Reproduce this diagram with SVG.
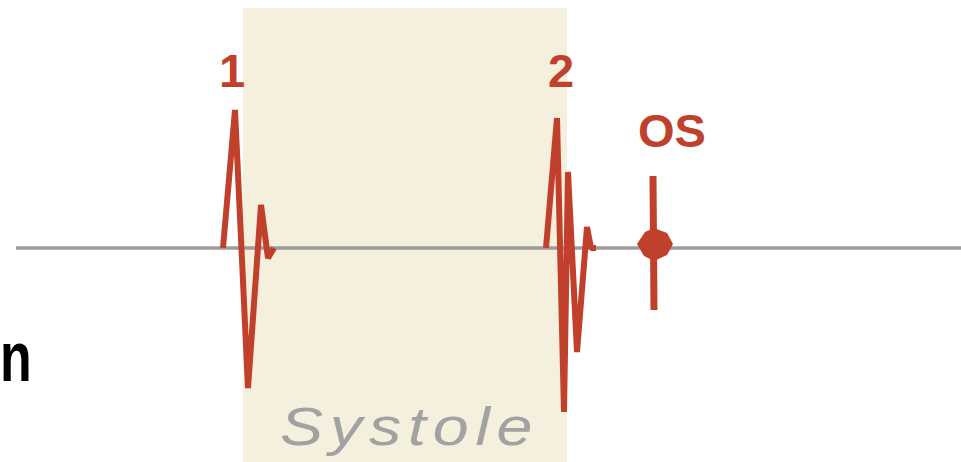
<svg xmlns="http://www.w3.org/2000/svg" width="961" height="462" viewBox="0 0 961 462">
<style>
.wave{fill:none;stroke:#C1402B;stroke-width:6;stroke-linejoin:bevel;stroke-linecap:butt}
.lbl{font-family:"Liberation Sans",Arial,sans-serif;font-weight:bold;font-size:47px;fill:#C1402B;text-anchor:middle}
</style>
<rect width="961" height="462" fill="#ffffff"/>
<g id="systole">
<rect x="243" y="8" width="324" height="454" fill="#F5EFDE"/>
<text transform="translate(280,445) scale(1.22,1)" x="0" y="0" font-family="Liberation Sans,Arial,sans-serif" font-style="italic" font-size="53" fill="#A2A2A2" textLength="207" lengthAdjust="spacing">Systole</text>
</g>
<g id="baseline">
<line x1="16" y1="248" x2="961" y2="248" stroke="#9C9C9C" stroke-width="3.5"/>
</g>
<g id="s1">
<polyline class="wave" points="223,248 235,110 248,388 261,205 268,258 274,248"/>
<text class="lbl" x="232" y="87">1</text>
</g>
<g id="s2">
<polyline class="wave" points="546,248 557,118 564,412 568,172 577,352 587,227 591,248 596,248"/>
<text class="lbl" x="561" y="87">2</text>
</g>
<g id="os">
<line x1="653" y1="176" x2="654" y2="310" stroke="#C1402B" stroke-width="7"/>
<path d="M637,244 L645,232 L654,228 L667,233 L673,244 L667,255 L654,261 L644,256 Z" fill="#C1402B"/>
<text class="lbl" x="672" y="147">OS</text>
</g>
<g id="label-n">
<text transform="translate(0,381) scale(0.73,1)" x="0" y="0" font-family="Liberation Sans,Arial,sans-serif" font-weight="bold" font-size="71" fill="#000000">n</text>
</g>
</svg>
